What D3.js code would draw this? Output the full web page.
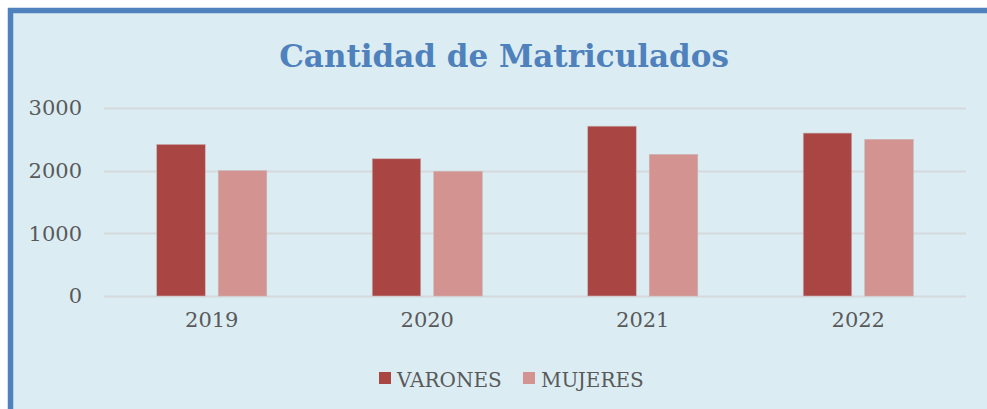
<!DOCTYPE html>
<html>
<head>
<meta charset="utf-8">
<script src="https://cdn.jsdelivr.net/npm/d3@7"></script>
<style>
  body { margin: 0; background: #ffffff; }
  svg { display: block; }
</style>
</head>
<body>
<div id="chart"></div>
<script>

// Data

var years = ["2019", "2020", "2021", "2022"];
var series = ["VARONES", "MUJERES"];
var varones = [2420, 2190, 2710, 2600];
var mujeres = [2000, 1990, 2260, 2500];
var yTicks = [0, 1000, 2000, 3000];
var colors = ["#a94543", "#d39391"];

var title = "Cantidad de Matriculados";

// Setup

var width = 987, height = 409;
var margin = { top: 108, left: 104, right: 21, bottom: 113 };

var svg = d3.select("#chart").append("svg")
	.attr("width", width)
	.attr("height", height);

// panel + border
svg.append("rect")
	.attr("x", 10.5)
	.attr("y", 10.5)
	.attr("width", width + 20)
	.attr("height", height + 20)
	.attr("fill", "#dbedf3")
	.attr("stroke", "#4f81bd")
	.attr("stroke-width", 5.5);

var x = d3.scaleBand()
	.domain(years)
	.range([margin.left, width - margin.right]);

var xInner = d3.scaleBand()
	.domain(series)
	.range([0, x.bandwidth()])
	.paddingInner(0.211)
	.paddingOuter(0.857);

var y = d3.scaleLinear()
	.domain([0, 3000])
	.range([height - margin.bottom, margin.top]);

// Gridlines

svg.append("g")
	.selectAll("line")
	.data(yTicks)
	.join("line")
	.attr("x1", margin.left)
	.attr("x2", width - margin.right)
	.attr("y1", function(d) { return Math.round(y(d)) + 0.5; })
	.attr("y2", function(d) { return Math.round(y(d)) + 0.5; })
	.attr("stroke", "#d6d9db")
	.attr("stroke-width", 2);

// Y axis labels

var yAxis = svg.append("g")
	.attr("transform", "translate(" + (margin.left - 22) + ",0)")
	.call(d3.axisLeft(y).tickValues(yTicks).tickFormat(d3.format("d")).tickSize(0).tickPadding(0));

yAxis.select(".domain").remove();
yAxis.selectAll("text")
	.attr("font-family", "DejaVu Serif")
	.attr("font-size", 21)
	.attr("fill", "#595959");

// Bars

var rows = years.map(function(yr, i) {
	return { year: yr, values: [varones[i], mujeres[i]] };
});

var groups = svg.append("g")
	.selectAll("g")
	.data(rows)
	.join("g")
	.attr("transform", function(d) { return "translate(" + x(d.year) + ",0)"; });

groups.selectAll("rect")
	.data(function(d) { return d.values.map(function(v, j) { return { key: series[j], value: v, idx: j }; }); })
	.join("rect")
	.attr("x", function(d) { return xInner(d.key); })
	.attr("width", xInner.bandwidth())
	.attr("y", function(d) { return y(d.value); })
	.attr("height", function(d) { return y(0) - y(d.value); })
	.attr("fill", function(d) { return colors[d.idx]; })
	.attr("stroke", "#c9b5b6")
	.attr("stroke-width", 0.6);

// X axis labels

var xAxis = svg.append("g")
	.attr("transform", "translate(0," + (y(0) + 16) + ")")
	.call(d3.axisBottom(x).tickSize(0).tickPadding(0));

xAxis.select(".domain").remove();
xAxis.selectAll("text")
	.attr("font-family", "DejaVu Serif")
	.attr("font-size", 21)
	.attr("fill", "#595959");

// Title

svg.append("text")
	.attr("x", 504)
	.attr("y", 67)
	.attr("text-anchor", "middle")
	.attr("font-family", "DejaVu Serif")
	.attr("font-weight", "bold")
	.attr("font-size", 31)
	.attr("fill", "#4f81bd")
	.text(title);

// Legend

var legendX = [379, 523];

var legend = svg.append("g")
	.selectAll("g")
	.data(series)
	.join("g")
	.attr("transform", function(d, i) { return "translate(" + legendX[i] + ",372)"; });

legend.append("rect")
	.attr("width", 12)
	.attr("height", 12)
	.attr("fill", function(d, i) { return colors[i]; });

legend.append("text")
	.attr("x", 18)
	.attr("y", 14.5)
	.attr("font-family", "DejaVu Serif")
	.attr("font-size", 20)
	.attr("fill", "#595959")
	.text(function(d) { return d; });

</script>
</body>
</html>
